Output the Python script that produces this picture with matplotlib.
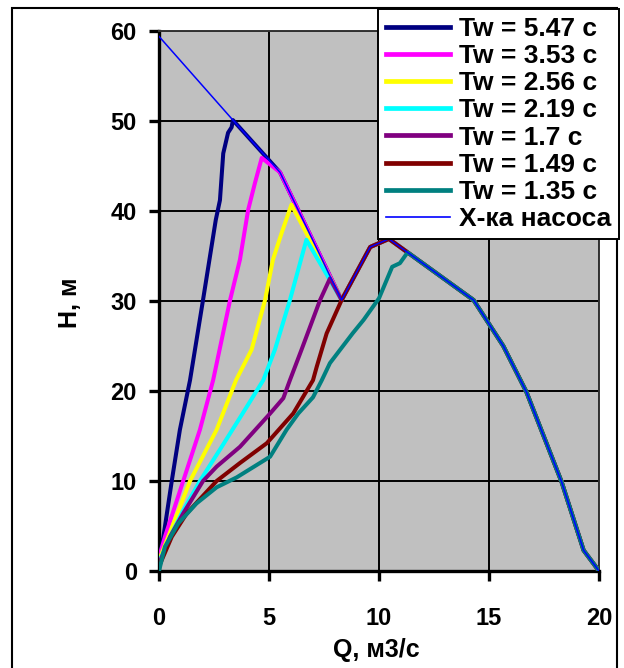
import matplotlib.pyplot as plt
from matplotlib.patches import Rectangle
from matplotlib.lines import Line2D

plt.rcParams['font.family'] = ['Liberation Sans', 'DejaVu Sans']
plt.rcParams['font.weight'] = 'bold'

# характеристика насоса
q_pump = [0, 3.36, 5.5, 8.3, 9.6, 10.45, 11.3, 14.3, 15.65, 16.7, 18.3, 19.3, 20]
h_pump = [59.4, 50.1, 44.3, 30.1, 36.0, 36.9, 35.4, 30.1, 25.0, 19.9, 9.9, 2.3, 0]

labels = ['Tw = 5.47 c', 'Tw = 3.53 c', 'Tw = 2.56 c', 'Tw = 2.19 c',
          'Tw = 1.7 c', 'Tw = 1.49 c', 'Tw = 1.35 c']
colors = ['#000080', '#FF00FF', '#FFFF00', '#00FFFF', '#800080', '#800000', '#008080']

# восходящие участки (до выхода на характеристику насоса)
q_547 = [0, 0.2, 0.58, 0.95, 1.41, 2.0, 2.58, 2.77, 2.92, 3.14, 3.3]
h_547 = [1.0, 3.8, 10, 15.7, 21.2, 30.1, 39, 41.2, 46.4, 48.7, 49.3]
q_353 = [0, 0.27, 1.1, 1.86, 2.46, 3.23, 3.68, 4.05, 4.36, 4.67]
h_353 = [1.5, 3.8, 10, 15.7, 21.2, 30.1, 34.6, 40.1, 43.1, 45.9]
q_256 = [0, 0.42, 1.41, 2.62, 3.5, 4.21, 4.82, 5.18, 5.58, 6.02]
h_256 = [1.2, 3.8, 10, 15.7, 21.2, 24.6, 30.1, 34.6, 37.6, 40.7]
q_219 = [0, 0.5, 1.03, 1.86, 2.85, 3.8, 4.74, 5.27, 5.95, 6.7]
h_219 = [1.0, 3.8, 6.4, 10, 13.8, 17.5, 21.2, 24.6, 30.1, 36.8]
q_170 = [0, 0.5, 1.1, 2.0, 2.62, 3.68, 5.05, 5.65, 5.95, 6.48, 7.32, 7.77]
h_170 = [0.8, 3.8, 6.4, 10, 11.6, 13.8, 17.5, 19.2, 21.2, 24.6, 30.1, 32.5]
q_149 = [0, 0.58, 1.26, 2.62, 3.68, 4.9, 6.1, 7.0, 7.17, 7.62, 8.3]
h_149 = [0.5, 3.8, 6.4, 10, 12, 14.2, 17.5, 21.2, 22.7, 26.4, 30.1]
q_135 = [0, 0.27, 0.88, 1.7, 2.62, 3.53, 5.05, 5.8, 6.33, 7.0, 7.4, 7.77,
         8.8, 9.3, 10.0, 10.6, 10.95, 11.3]
h_135 = [0, 2.7, 5.3, 7.5, 9.3, 10.4, 12.7, 15.7, 17.5, 19.3, 21.2, 23.1,
         26.4, 27.9, 30.3, 33.8, 34.2, 35.4]

rising = [(q_547, h_547), (q_353, h_353), (q_256, h_256), (q_219, h_219),
          (q_170, h_170), (q_149, h_149), (q_135, h_135)]

fig = plt.figure(figsize=(6.24, 6.68), dpi=100)
ax = fig.add_axes([159 / 624, 1 - 571 / 668, 440 / 624, 540 / 668])
ax.set_facecolor('#C0C0C0')

# рамка вокруг всей диаграммы
fig.patches.append(Rectangle((12 / 624, -0.02), 605 / 624, 1 - 8 / 668 + 0.02,
                             transform=fig.transFigure, fill=False,
                             edgecolor='black', linewidth=1.5, zorder=0))

for (q, h), c in zip(rising, colors):
    # после выхода на характеристику кривая идёт по ней
    tail = [i for i, x in enumerate(q_pump) if x > q[-1]]
    qq = q + [q_pump[i] for i in tail]
    hh = h + [h_pump[i] for i in tail]
    ax.plot(qq, hh, color=c, linewidth=2.9, solid_joinstyle='round', zorder=3)

ax.plot(q_pump, h_pump, color='#0000FF', linewidth=1.1, zorder=4)

ax.set_xlim(0, 20)
ax.set_ylim(0, 60)
ax.set_xticks([0, 5, 10, 15, 20])
ax.set_yticks([0, 10, 20, 30, 40, 50, 60])
ax.grid(True, color='black', linewidth=1.4, zorder=1)
ax.set_axisbelow(True)

for s in ['top', 'right']:
    ax.spines[s].set_linewidth(1.4)
    ax.spines[s].set_color('#333333')
for s in ['left', 'bottom']:
    ax.spines[s].set_linewidth(2.4)

ax.tick_params(axis='both', direction='out', length=7, width=2.4, labelsize=17)
ax.tick_params(axis='x', pad=19)
ax.tick_params(axis='y', pad=9)
for t in ax.get_xticklabels() + ax.get_yticklabels():
    t.set_fontweight('bold')

fig.text(376 / 624, 1 - 650 / 668, 'Q, м3/с', ha='center', va='center',
         fontsize=18, fontweight='bold')
fig.text(70 / 624, 1 - 303 / 668, 'H, м', ha='center', va='center',
         rotation=90, fontsize=18, fontweight='bold')

handles = [Line2D([], [], color=c, linewidth=3.4) for c in colors]
handles.append(Line2D([], [], color='#0000FF', linewidth=1.2))
leg = fig.legend(handles, labels + ['X-ка насоса'], loc='upper right',
                 bbox_to_anchor=(619 / 624, 1 - 9 / 668), fontsize=19,
                 frameon=True, fancybox=False, framealpha=1, edgecolor='black',
                 borderpad=0.3, labelspacing=0.12, handlelength=2.4,
                 handletextpad=0.35, borderaxespad=0)
leg.get_frame().set_linewidth(1.4)
for t in leg.get_texts():
    t.set_fontweight('bold')

fig.savefig('out.png', dpi=100)
